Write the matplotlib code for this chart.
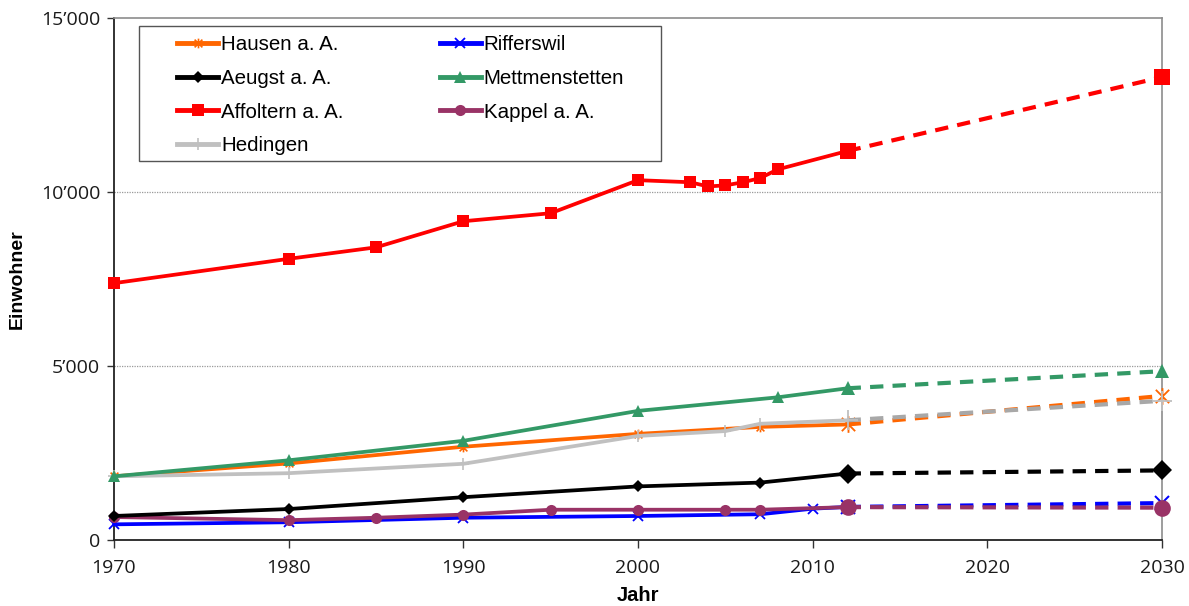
import matplotlib
matplotlib.use("Agg")
import matplotlib.pyplot as plt
from matplotlib.lines import Line2D
from matplotlib.patches import Rectangle
from matplotlib.path import Path
from matplotlib.ticker import FuncFormatter

# Einwohnerzahlen der Gemeinden im Bezirk Affoltern (2030 = Prognose)
years_hausen = [1970, 1980, 1990, 2000, 2007, 2012, 2030]
pop_hausen = [1830, 2200, 2680, 3050, 3250, 3320, 4140]

years_rifferswil = [1970, 1980, 1990, 2000, 2007, 2010, 2012, 2030]
pop_rifferswil = [450, 510, 640, 690, 740, 900, 950, 1060]

years_aeugst = [1970, 1980, 1990, 2000, 2007, 2012, 2030]
pop_aeugst = [690, 890, 1230, 1540, 1650, 1910, 2000]

years_mettmenstetten = [1970, 1980, 1990, 2000, 2008, 2012, 2030]
pop_mettmenstetten = [1830, 2290, 2850, 3710, 4100, 4360, 4850]

years_affoltern = [1970, 1980, 1985, 1990, 1995, 2000, 2003, 2004, 2005,
                   2006, 2007, 2008, 2012, 2030]
pop_affoltern = [7380, 8080, 8410, 9160, 9390, 10340, 10280, 10160, 10190,
                 10280, 10400, 10650, 11180, 13300]

years_kappel = [1970, 1980, 1985, 1990, 1995, 2000, 2005, 2007, 2012, 2030]
pop_kappel = [660, 570, 640, 730, 870, 870, 870, 870, 945, 930]

years_hedingen = [1970, 1980, 1990, 2000, 2005, 2007, 2012, 2030]
pop_hedingen = [1830, 1920, 2190, 2990, 3130, 3340, 3440, 4000]

x_ticks = [1970, 1980, 1990, 2000, 2010, 2020, 2030]
y_ticks = [0, 5000, 10000, 15000]

# Excel-style star marker: an X crossed by a vertical bar
star = Path([(-1, -1), (1, 1), (-1, 1), (1, -1), (0, -1.25), (0, 1.25)],
            [Path.MOVETO, Path.LINETO, Path.MOVETO, Path.LINETO,
             Path.MOVETO, Path.LINETO])

W, H = 1189, 606
fig = plt.figure(figsize=(W / 100, H / 100), dpi=100)
ax = fig.add_axes([114 / W, 66 / H, 1048 / W, 522 / H])

styles = {
    "Hausen a. A.": dict(c="#FF6600", m=star, ms=7, mb=12, filled=False, mew=1.2),
    "Rifferswil": dict(c="#0000FF", m="x", ms=7, mb=10, filled=False, mew=1.3),
    "Aeugst a. A.": dict(c="#000000", m="D", ms=6, mb=10, filled=True, mew=0),
    "Mettmenstetten": dict(c="#339966", m="^", ms=8, mb=10, filled=True, mew=0),
    "Affoltern a. A.": dict(c="#FF0000", m="s", ms=8, mb=11.5, filled=True, mew=0),
    "Kappel a. A.": dict(c="#993366", m="o", ms=8, mb=12, filled=True, mew=0),
    "Hedingen": dict(c="#C0C0C0", m="+", ms=8, mb=14, filled=False, mew=1.2),
}

series = {
    "Hausen a. A.": (years_hausen, pop_hausen),
    "Rifferswil": (years_rifferswil, pop_rifferswil),
    "Aeugst a. A.": (years_aeugst, pop_aeugst),
    "Mettmenstetten": (years_mettmenstetten, pop_mettmenstetten),
    "Affoltern a. A.": (years_affoltern, pop_affoltern),
    "Kappel a. A.": (years_kappel, pop_kappel),
    "Hedingen": (years_hedingen, pop_hedingen),
}

draw_order = ["Rifferswil", "Kappel a. A.", "Aeugst a. A.", "Hausen a. A.",
              "Hedingen", "Mettmenstetten", "Affoltern a. A."]
dash_colors = {"Hedingen": "#A8A8A8"}

lw = 2.7
for z, name in enumerate(draw_order):
    yrs, pop = series[name]
    s = styles[name]
    c = s["c"]
    face = c if s["filled"] else "none"
    zo = 3 + z
    # measured values, solid line
    ax.plot(yrs[:-1], pop[:-1], color=c, lw=lw, solid_capstyle="round",
            zorder=zo, clip_on=False)
    ax.plot(yrs[:-2], pop[:-2], ls="none", marker=s["m"], ms=s["ms"],
            mfc=face, mec=c, mew=s["mew"], zorder=zo, clip_on=False)
    # forecast, dashed line
    ax.plot(yrs[-2:], pop[-2:], color=dash_colors.get(name, c), lw=lw + 0.3,
            ls=(0, (3.2, 2.2)), zorder=zo, clip_on=False)
    ax.plot(yrs[-2:], pop[-2:], ls="none", marker=s["m"], ms=s["mb"],
            mfc=face, mec=c, mew=s["mew"] * 1.1, zorder=zo, clip_on=False)

ax.set_xlim(1970, 2030)
ax.set_ylim(0, 15000)
ax.set_xticks(x_ticks)
ax.set_yticks(y_ticks)
ax.yaxis.set_major_formatter(
    FuncFormatter(lambda v, p: f"{int(v):,}".replace(",", "\u2019")))

ax.tick_params(axis="both", labelfontfamily="Open Sans", labelsize=14,
               labelcolor="#1a1a1a", color="#333333", width=1)
ax.tick_params(axis="x", direction="out", length=6, pad=8)
ax.tick_params(axis="y", direction="out", length=5, pad=5)

for v in y_ticks[1:-1]:
    ax.axhline(v, color="#9a9a9a", lw=0.9, ls=(0, (1, 1)), zorder=1)

for side in ("left", "bottom"):
    ax.spines[side].set_color("#222222")
    ax.spines[side].set_linewidth(1.3)
for side in ("top", "right"):
    ax.spines[side].set_color("#8c8c8c")
    ax.spines[side].set_linewidth(1.2)

ax.set_ylabel("Einwohner", family="Liberation Sans", fontweight="bold",
              fontsize=14, labelpad=11)
ax.set_xlabel("Jahr", family="Liberation Sans", fontweight="bold",
              fontsize=14.5, labelpad=6)

# legend: entries placed without frame, box drawn separately
legend_order = ["Hausen a. A.", "Aeugst a. A.", "Affoltern a. A.", "Hedingen",
                "Rifferswil", "Mettmenstetten", "Kappel a. A."]
handles = []
for name in legend_order:
    s = styles[name]
    handles.append(Line2D([0], [0], color=s["c"], lw=lw + 0.8, marker=s["m"],
                          ms=s["ms"],
                          mfc=s["c"] if s["filled"] else "none",
                          mec=s["c"], mew=s["mew"]))
leg = fig.legend(handles, legend_order, ncol=2, loc="upper left",
                 bbox_to_anchor=(177 / W, 1 - 35 / H),
                 bbox_transform=fig.transFigure,
                 prop=dict(family="Liberation Sans", size=14.8),
                 frameon=False, borderpad=0, labelspacing=0.72,
                 handlelength=2.0, handletextpad=0.15, columnspacing=4.67,
                 borderaxespad=0, numpoints=1)
leg.set_zorder(21)
box = Rectangle((139 / W, 1 - 161 / H), 522 / W, 135 / H,
                transform=fig.transFigure, facecolor="white",
                edgecolor="#555555", lw=1.0, zorder=20)
fig.patches.append(box)

fig.savefig("out.png", dpi=100, facecolor="white")
